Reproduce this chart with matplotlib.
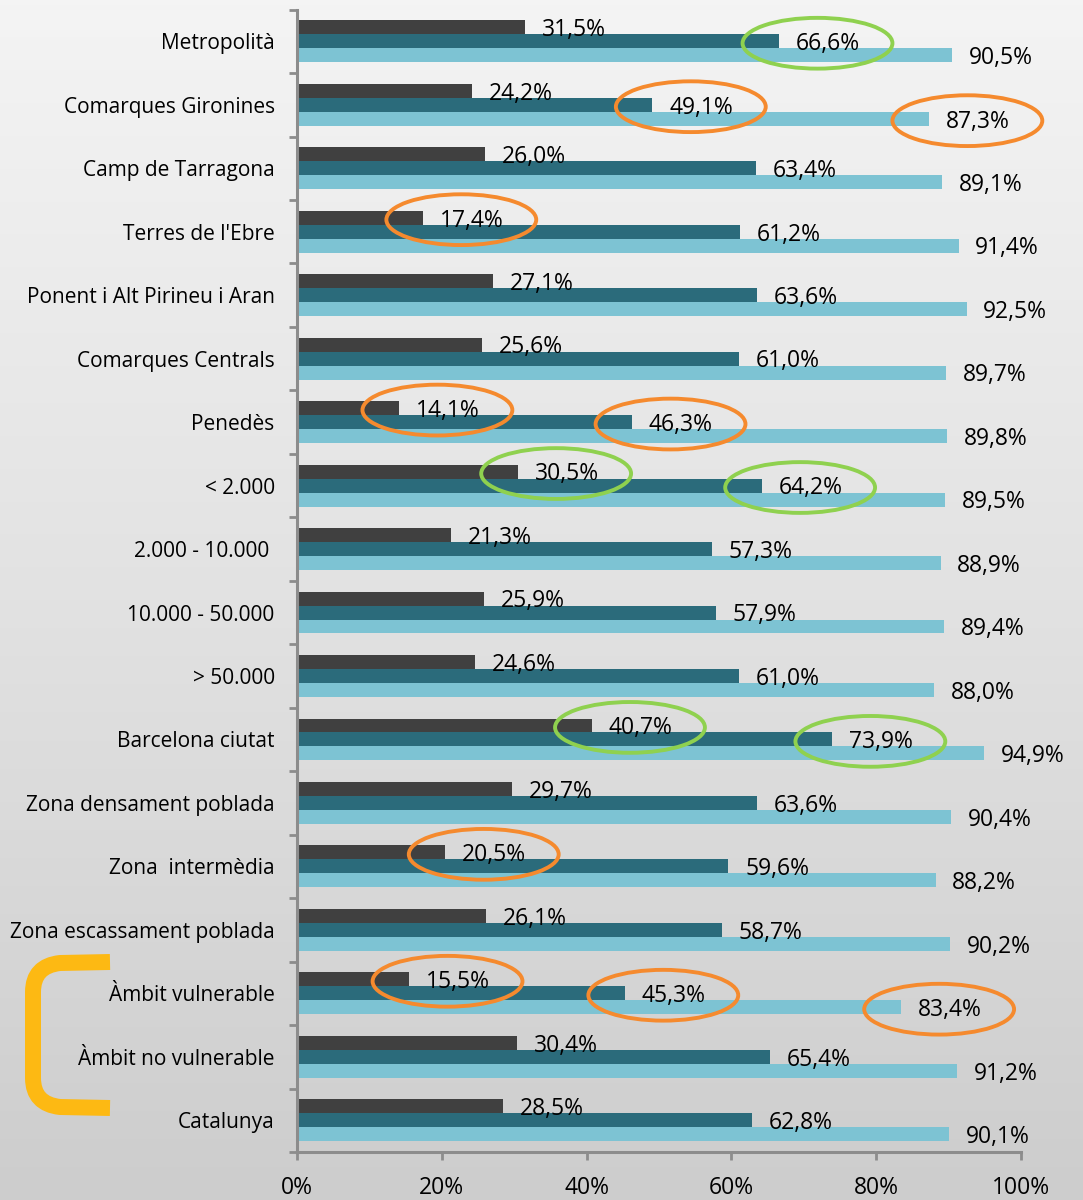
import numpy as np
import matplotlib
matplotlib.use("Agg")
import matplotlib.pyplot as plt
from matplotlib.patches import Ellipse, PathPatch
from matplotlib.path import Path

# Categories (top to bottom)
categories = [
    "Metropolità", "Comarques Gironines", "Camp de Tarragona", "Terres de l'Ebre",
    "Ponent i Alt Pirineu i Aran", "Comarques Centrals", "Penedès", "< 2.000",
    "2.000 - 10.000 ", "10.000 - 50.000", "> 50.000", "Barcelona ciutat",
    "Zona densament poblada", "Zona  intermèdia", "Zona escassament poblada",
    "Àmbit vulnerable", "Àmbit no vulnerable", "Catalunya",
]

# three series, values in %
serie_fosca = [31.5, 24.2, 26.0, 17.4, 27.1, 25.6, 14.1, 30.5, 21.3, 25.9,
               24.6, 40.7, 29.7, 20.5, 26.1, 15.5, 30.4, 28.5]
serie_mitja = [66.6, 49.1, 63.4, 61.2, 63.6, 61.0, 46.3, 64.2, 57.3, 57.9,
               61.0, 73.9, 63.6, 59.6, 58.7, 45.3, 65.4, 62.8]
serie_clara = [90.5, 87.3, 89.1, 91.4, 92.5, 89.7, 89.8, 89.5, 88.9, 89.4,
               88.0, 94.9, 90.4, 88.2, 90.2, 83.4, 91.2, 90.1]

# highlighted labels: (category index, series index, colour)
orange = "#f58a2e"
green = "#8fd14f"
highlights = [
    (0, 1, green), (1, 1, orange), (1, 2, orange), (3, 0, orange),
    (6, 0, orange), (6, 1, orange), (7, 0, green), (7, 1, green),
    (11, 0, green), (11, 1, green), (13, 0, orange),
    (15, 0, orange), (15, 1, orange), (15, 2, orange),
]

series = [serie_fosca, serie_mitja, serie_clara]
colors = ["#404040", "#2b6b7b", "#7dc3d3"]

plt.rcParams['font.family'] = ['Open Sans', 'DejaVu Sans']

fig = plt.figure(figsize=(10.83, 12), dpi=100)

# background gradient
bg = fig.add_axes([0, 0, 1, 1], zorder=-10)
grad = np.linspace(0, 1, 256).reshape(-1, 1)
bg.imshow(grad, aspect='auto', cmap=matplotlib.colors.LinearSegmentedColormap.from_list(
    'bg', ['#f4f4f4', '#e2e2e2', '#cdcdcd']), extent=[0, 1, 0, 1])
bg.axis('off')

ax = fig.add_axes([0.2742, 0.04, 0.6685, 0.952])
ax.patch.set_alpha(0)

y = np.arange(len(categories))
h = 0.22
for i, (vals, c) in enumerate(zip(series, colors)):
    pos = y + (i - 1) * h
    ax.barh(pos, vals, height=h, color=c, zorder=2)
    for p, v in zip(pos, vals):
        ax.annotate(f"{v:.1f}%".replace('.', ','), (v, p), xytext=(12, -2),
                    textcoords='offset points', va='center', ha='left',
                    fontsize=16.5, color='black', zorder=4)

for ci, si, col in highlights:
    v = series[si][ci]
    e = Ellipse((v + 5.3, y[ci] + (si - 1) * h + 0.03), width=20.7, height=0.8,
                fill=False, edgecolor=col, linewidth=2.8, clip_on=False, zorder=5)
    ax.add_patch(e)

ax.set_xlim(0, 100)
ax.set_ylim(len(categories) - 0.5, -0.5)
ax.set_xticks(np.arange(0, 101, 20))
ax.set_xticklabels([f"{t}%" for t in range(0, 101, 20)], fontsize=16.5)
ax.set_yticks(y)
ax.set_yticklabels(categories, fontsize=15)
ax.set_yticks(np.arange(-0.5, len(categories)), minor=True)
ax.tick_params(axis='y', which='major', length=0, pad=16)
ax.tick_params(axis='y', which='minor', length=6, width=2, color='#8c8c8c')
ax.tick_params(axis='x', length=6, width=2, color='#8c8c8c', pad=11)

for s in ['top', 'right']:
    ax.spines[s].set_visible(False)
for s in ['left', 'bottom']:
    ax.spines[s].set_color('#8c8c8c')
    ax.spines[s].set_linewidth(2.2)

# yellow bracket on the left (figure pixel coordinates)
W, H = 1083, 1200
pts = [(110, 962), (60, 963), (33, 966), (33, 992), (33, 1078), (33, 1104),
       (60, 1107), (110, 1108)]
codes = [Path.MOVETO, Path.LINETO, Path.CURVE3, Path.CURVE3, Path.LINETO,
         Path.CURVE3, Path.CURVE3, Path.LINETO]
verts = [(px / W, 1 - py / H) for px, py in pts]
fig.patches.append(PathPatch(Path(verts, codes), transform=fig.transFigure,
                             fill=False, edgecolor='#fdb913', linewidth=11.5,
                             capstyle='butt', joinstyle='round'))

fig.savefig("out.png", dpi=100)
